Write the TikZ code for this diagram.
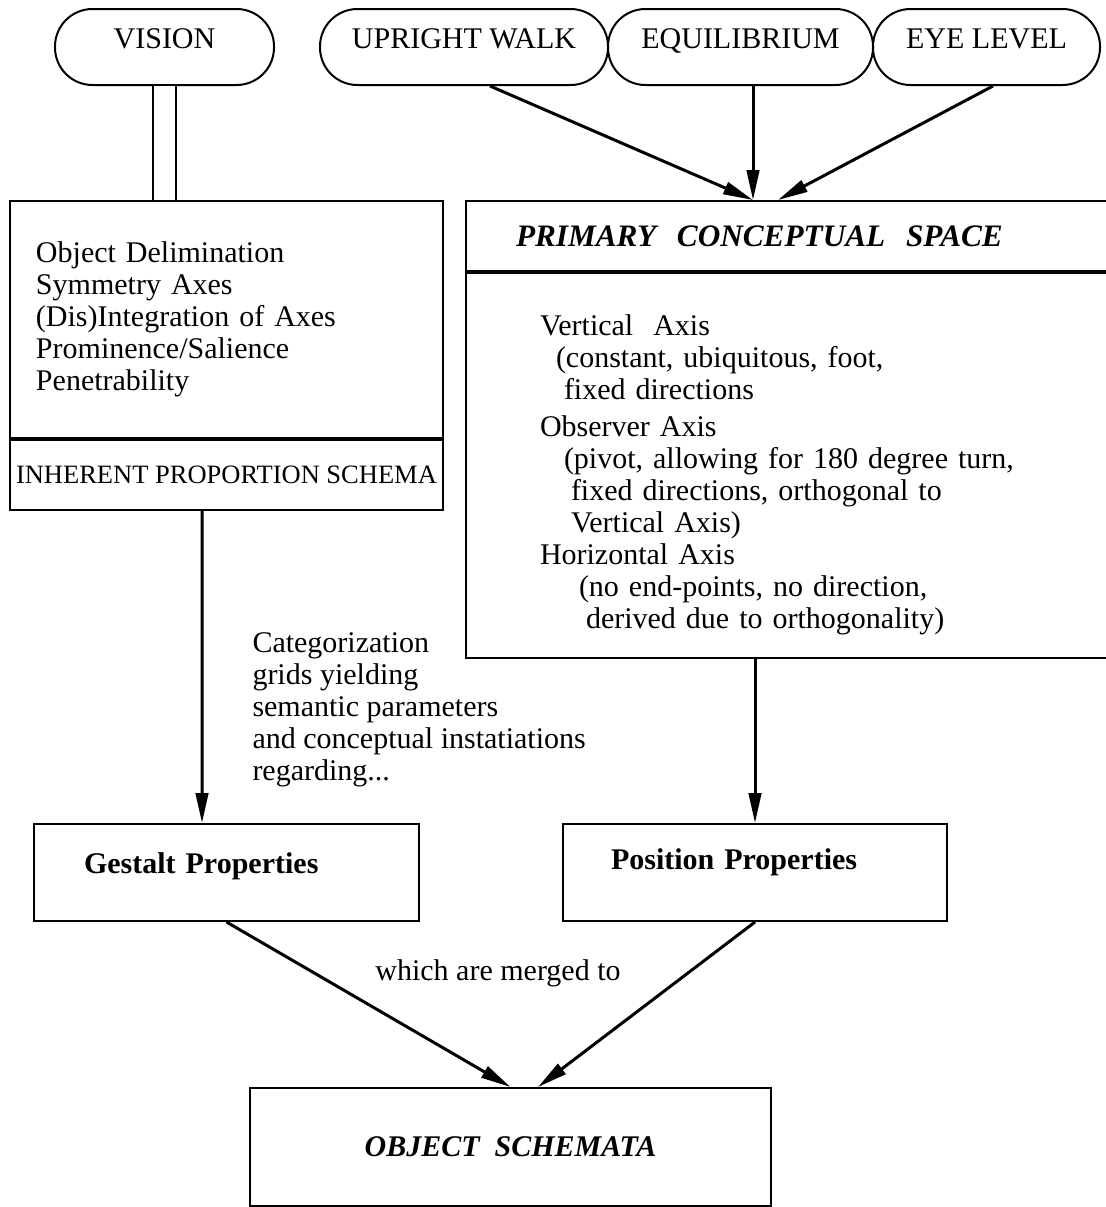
\documentclass[tikz,border=0pt]{standalone}
\usepackage{fontspec}
\setmainfont{Liberation Serif}
\usepackage{tikz}
\usetikzlibrary{positioning}
\usetikzlibrary{arrows.meta}
\tikzset{
    mypill/.style = {rectangle, rounded corners=15pt, draw=black, line width=0.8pt, align=center, anchor=north, inner xsep=0pt, inner ysep=0pt, text height=15.6pt, text depth=14.8pt},
    mybox/.style = {rectangle, draw=black, line width=0.8pt, align=left, anchor=north west},
    mytext/.style = {align=left, inner sep=0pt},
    edgea/.style = {-{Triangle[length=12pt,width=5pt]}, line width=1.2pt, black},
    edged/.style = {-, double, double distance=8.4pt, line width=0.9pt, black},
    every picture/.style={font issue=\fontsize{12}{12.8}},
    font issue/.style={execute at begin picture={#1\selectfont}}
}
\begin{document}
\begin{tikzpicture}[x=0.4pt, y=-0.4pt]
\useasboundingbox (0, 0) rectangle (1106, 1207);
\node[mypill, minimum width=87.6pt] at (164.5, 8) (vision) {VISION};
\node[mypill, minimum width=115.2pt] at (464, 8) (upright) {UPRIGHT WALK};
\node[mypill, minimum width=106pt] at (740.5, 8) (equil) {EQUILIBRIUM};
\node[mypill, minimum width=90.8pt] at (986.5, 8) (eyelevel) {EYE LEVEL};
%
\node[mybox, minimum width=173.2pt, minimum height=94.8pt, text width=152.4pt, inner xsep=10.4pt] at (9, 200) (features) {Object Delimination\\Symmetry Axes\\(Dis)Integration of Axes\\Prominence/Salience\\Penetrability};
\node[mybox, below=0pt of features, minimum width=173.2pt, minimum height=28pt, align=center, inner xsep=0pt, font=\fontsize{10.6}{12}\selectfont] (ipschema) {INHERENT PROPORTION SCHEMA};
%
\node[mybox, minimum width=260pt, minimum height=28pt, text width=220pt, inner xsep=20pt, font=\fontsize{12.5}{14}\selectfont\bfseries\itshape] at (465, 200) (pcstitle) {PRIMARY\ \ CONCEPTUAL\ \ SPACE};
\node[mybox, below=0pt of pcstitle, minimum width=260pt, minimum height=154pt, text width=200.8pt, inner xsep=29.6pt] (pcsbody) {\rule{0pt}{15.5pt}Vertical\ \ Axis\\\hspace*{6.4pt}(constant, ubiquitous, foot,\\\hspace*{9.6pt}fixed directions\\[2pt]Observer Axis\\\hspace*{9.6pt}(pivot, allowing for 180 degree turn,\\\hspace*{12.4pt}fixed directions, orthogonal to\\\hspace*{12.4pt}Vertical Axis)\\Horizontal Axis\\\hspace*{15.6pt}(no end-points, no direction,\\\hspace*{18.4pt}derived due to orthogonality)};
%
\node[mytext, anchor=west] at (252, 709.5) (catgrid) {Categorization\\grids yielding\\semantic parameters\\and conceptual instatiations\\regarding...};
%
\node[mybox, minimum width=154pt, text width=114pt, inner xsep=20pt, inner ysep=0pt, text height=19.6pt, text depth=19.2pt, font=\bfseries] at (33, 823) (gestalt) {Gestalt Properties};
\node[mybox, minimum width=153.6pt, text width=115.2pt, inner xsep=19.2pt, inner ysep=0pt, text height=18pt, text depth=20.8pt, font=\bfseries] at (562, 823) (posprop) {Position Properties};
\node[inner sep=0pt] at (498, 973) (merged) {which are merged to};
\node[mybox, minimum width=208.4pt, minimum height=47.2pt, align=center, font=\bfseries\itshape] at (249, 1087) (objschema) {OBJECT\ \ SCHEMATA};
%
\draw[edged] (vision.south) -- (vision.south |- features.north);
\draw[edgea] ([xshift=10.4pt]upright.south) -- ([xshift=-15.2pt]pcstitle.north);
\draw[edgea] ([xshift=5pt]equil.south) -- ([xshift=5pt]equil.south |- pcstitle.north);
\draw[edgea] ([xshift=2.6pt]eyelevel.south) -- ([xshift=-5.2pt]pcstitle.north);
\draw[edgea] ([xshift=-9.8pt]ipschema.south) -- ([xshift=-9.8pt]gestalt.north);
\draw[edgea] (posprop.north |- pcsbody.south) -- (posprop.north);
\draw[edgea] (gestalt.south) -- (objschema.north);
\draw[edgea] (posprop.south) -- ([xshift=11pt]objschema.north);

\end{tikzpicture}
\end{document}
